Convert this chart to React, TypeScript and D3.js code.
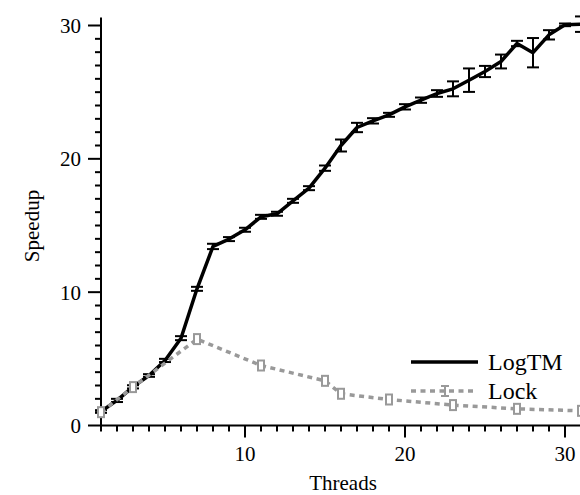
import { useEffect } from "react";
import * as d3 from "d3";

// LogTM vs Lock speedup by thread count
const logtmThreads = [1, 2, 3, 4, 5, 6, 7, 8, 9, 10, 11, 12, 13, 14, 15, 16, 17, 18, 19, 20, 21, 22, 23, 24, 25, 26, 27, 28, 29, 30, 31];
const logtmSpeedup = [1.05, 1.88, 2.9, 3.75, 4.88, 6.55, 10.25, 13.43, 13.98, 14.68, 15.65, 15.88, 16.85, 17.8, 19.3, 21.0, 22.35, 22.85, 23.3, 23.9, 24.4, 24.9, 25.25, 25.9, 26.55, 27.3, 28.65, 27.96, 29.3, 30.05, 30.1];
const logtmErr = [0.1, 0.12, 0.12, 0.1, 0.12, 0.15, 0.15, 0.2, 0.15, 0.15, 0.15, 0.15, 0.15, 0.15, 0.2, 0.45, 0.35, 0.2, 0.15, 0.2, 0.2, 0.25, 0.56, 0.88, 0.42, 0.52, 0.2, 1.1, 0.35, 0.1, 0.58];

const lockThreads = [1, 3, 7, 11, 15, 16, 19, 23, 27, 31];
const lockSpeedup = [1.0, 2.88, 6.48, 4.5, 3.35, 2.38, 1.95, 1.53, 1.25, 1.1];
const lockErr = [0.3, 0.3, 0.3, 0.3, 0.3, 0.3, 0.3, 0.3, 0.3, 0.3];

const xMajor = [10, 20, 30];
const yMajor = [0, 10, 20, 30];

const W = 580;
const H = 495;
const FONT = "'Liberation Serif', 'Times New Roman', serif";
const GRAY = "#999999";

export default function App() {
  useEffect(() => {
    document.body.style.margin = "0";
  }, []);

  const x = d3.scaleLinear().domain([1, 31]).range([101, 581]);
  const y = d3.scaleLinear().domain([0, 30]).range([425.5, 25.5]);

  const logtm = logtmThreads.map((t, i) => ({ t, v: logtmSpeedup[i], e: logtmErr[i] }));
  const lock = lockThreads.map((t, i) => ({ t, v: lockSpeedup[i], e: lockErr[i] }));

  const line = d3.line<{ t: number; v: number }>().x((d) => x(d.t)).y((d) => y(d.v));

  const xMinor = d3.range(1, 32);
  const yMinor = d3.range(0, 31);

  return (
    <svg width={W} height={H} style={{ display: "block" }} fontFamily={FONT}>
      {/* axes */}
      <line x1={x(1)} x2={W} y1={y(0)} y2={y(0)} stroke="#000" strokeWidth={2} />
      <line x1={x(1)} x2={x(1)} y1={y(0)} y2={y(30.6)} stroke="#000" strokeWidth={2} />
      {xMinor.map((t) => (
        <line key={"xt" + t} x1={x(t)} x2={x(t)} y1={y(0)} y2={y(0) + (xMajor.includes(t) ? 12 : 6)} stroke="#000" strokeWidth={2} />
      ))}
      {yMinor.map((t) => (
        <line key={"yt" + t} x1={x(1)} x2={x(1) - (yMajor.includes(t) ? 13 : 6)} y1={y(t)} y2={y(t)} stroke="#000" strokeWidth={2} />
      ))}
      {xMajor.map((t) => (
        <text key={"xl" + t} x={x(t)} y={y(0) + 35} textAnchor="middle" fontSize={21} fill="#000">{t}</text>
      ))}
      {yMajor.map((t) => (
        <text key={"yl" + t} x={x(1) - 20} y={y(t)} dy="0.35em" textAnchor="end" fontSize={21} fill="#000">{t}</text>
      ))}
      <text x={343} y={490} textAnchor="middle" fontSize={21} fill="#000">Threads</text>
      <text transform={`translate(39,226) rotate(-90)`} textAnchor="middle" fontSize={21} fill="#000">Speedup</text>

      {/* LogTM */}
      <path d={line(logtm) ?? ""} fill="none" stroke="#000" strokeWidth={3.5} strokeLinejoin="round" />
      {logtm.map((d) => (
        <g key={"le" + d.t} stroke="#000" strokeWidth={2}>
          <line x1={x(d.t)} x2={x(d.t)} y1={y(d.v - d.e)} y2={y(d.v + d.e)} />
          <line x1={x(d.t) - 6} x2={x(d.t) + 6} y1={y(d.v - d.e)} y2={y(d.v - d.e)} />
          <line x1={x(d.t) - 6} x2={x(d.t) + 6} y1={y(d.v + d.e)} y2={y(d.v + d.e)} />
        </g>
      ))}

      {/* Lock */}
      <path d={line(lock) ?? ""} fill="none" stroke={GRAY} strokeWidth={3.5} strokeDasharray="5,4.5" />
      {lock.map((d) => (
        <g key={"ke" + d.t} stroke={GRAY} strokeWidth={2}>
          <line x1={x(d.t) - 4} x2={x(d.t) + 4} y1={y(d.v - d.e)} y2={y(d.v - d.e)} />
          <line x1={x(d.t) - 4} x2={x(d.t) + 4} y1={y(d.v + d.e)} y2={y(d.v + d.e)} />
          <rect x={x(d.t) - 3} y={y(d.v) - 5} width={6} height={10} fill="#fff" />
        </g>
      ))}

      {/* legend */}
      <line x1={411} x2={478} y1={362} y2={362} stroke="#000" strokeWidth={3.5} />
      <text x={488} y={362} dy="0.33em" fontSize={24} fill="#000">LogTM</text>
      <line x1={411} x2={474} y1={391} y2={391} stroke={GRAY} strokeWidth={3.5} strokeDasharray="5,4.5" />
      <g stroke={GRAY} strokeWidth={2}>
        <line x1={445} x2={445} y1={386} y2={396} />
        <line x1={441} x2={449} y1={386} y2={386} />
        <line x1={441} x2={449} y1={396} y2={396} />
      </g>
      <text x={488} y={391} dy="0.33em" fontSize={24} fill="#000">Lock</text>
    </svg>
  );
}
